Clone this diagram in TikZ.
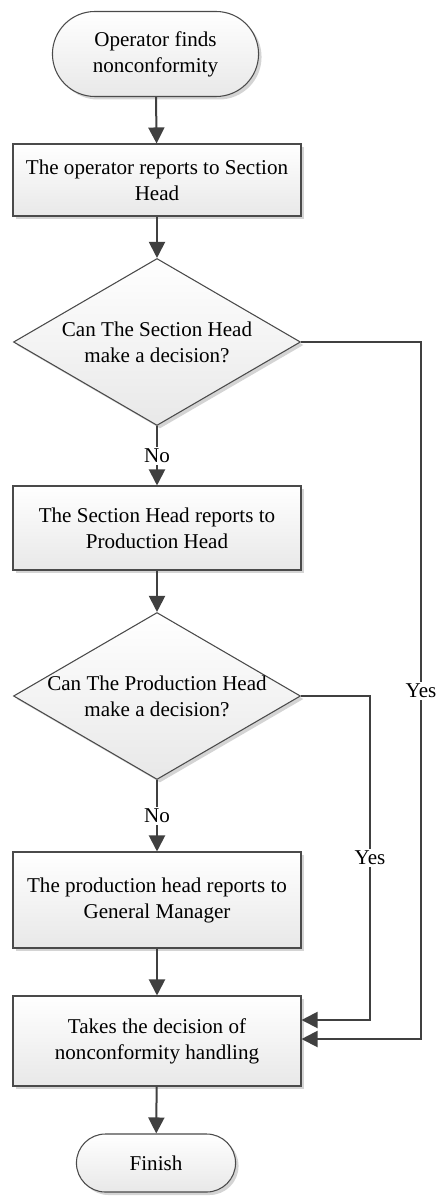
\documentclass[tikz,border=0pt]{standalone}
\usepackage{fontspec}
\setmainfont{Liberation Serif}
\usetikzlibrary{arrows.meta, shapes.geometric, shapes.misc, shadows}

\definecolor{linegray}{HTML}{404040}
\definecolor{boxline}{HTML}{4A4A4A}
\definecolor{boxfill}{HTML}{E8E8E8}
\definecolor{shadowgray}{HTML}{D4D4D4}

\begin{document}
\begin{tikzpicture}[x=0.75pt, y=-0.75pt,
                        every node/.style={font=\rmfamily\fontsize{15.8}{19.5}\selectfont, align=center},
                        flow/.style={draw=linegray, line width=1.5pt, -{Triangle[length=12pt, width=12pt]}}
                    ]

    \useasboundingbox (0,0) rectangle (435,1198); % keep the margins of the page

    % Define custom styles for the flowchart shapes
    \tikzset{
        shaded box/.style={
            draw=boxline, line width=0.8pt, top color=white, bottom color=boxfill,
            drop shadow={shadow xshift=2.25pt, shadow yshift=-2.25pt, fill=shadowgray, opacity=1}
        }
    }
    \tikzset{
        terminal/.style n args={2}{shaded box, rounded rectangle, minimum width=#1, minimum height=#2}
    }
    \tikzset{
        process/.style={shaded box, rectangle, minimum width=216pt, minimum height=#1}
    }
    \tikzset{   % negative inner sep so that the text does not blow up the diamond
        decision/.style={shaded box, diamond, aspect=1.72, inner sep=-10pt, minimum width=215.25pt, minimum height=125.25pt}
    }
    \tikzset{
        answer/.style={fill=white, inner sep=1.5pt}
    }

    % Start
    \node[terminal={161.25pt}{63.75pt}] (start) at (155.5, 54) {Operator finds\\nonconformity};

    % Section head level
    \node[process=54pt] (report1) at (157, 180) {The operator reports to Section\\Head};
    \node[decision] (ask1) at (157, 342) {Can The Section Head\\make a decision?};

    % Production head level
    \node[process=63pt] (report2) at (157, 528) {The Section Head reports to\\Production Head};
    \node[decision] (ask2) at (157, 696) {Can The Production Head\\make a decision?};

    % General manager level
    \node[process=72pt] (report3) at (157, 900) {The production head reports to\\General Manager};
    \node[process=67.5pt] (decide) at (157, 1041) {Takes the decision of\\nonconformity handling};

    % End
    \node[terminal={126pt}{43.5pt}] (finish) at (156, 1163) {Finish};

    % Corners of the Yes lines
    \coordinate (turn1) at (421, 342);
    \coordinate (turn2) at (370, 696);
    \coordinate (in1) at ([yshift=1.5pt]decide.east);
    \coordinate (in2) at ([yshift=15.75pt]decide.east);

    % Edges between nodes
    \draw[flow] (start) -- (report1);
    \draw[flow] (report1) -- (ask1);
    \draw[flow] (ask1) -- node[answer] {No} (report2);
    \draw[flow] (report2) -- (ask2);
    \draw[flow] (ask2) -- node[answer] {No} (report3);
    \draw[flow] (report3) -- (decide);
    \draw[flow] (decide) -- (finish);

    \draw[flow] (ask1.east) -- (turn1) -- node[answer] {Yes} (turn1 |- in1) -- (in1);
    \draw[flow] (ask2.east) -- (turn2) -- node[answer] {Yes} (turn2 |- in2) -- (in2);

\end{tikzpicture}
\end{document}
